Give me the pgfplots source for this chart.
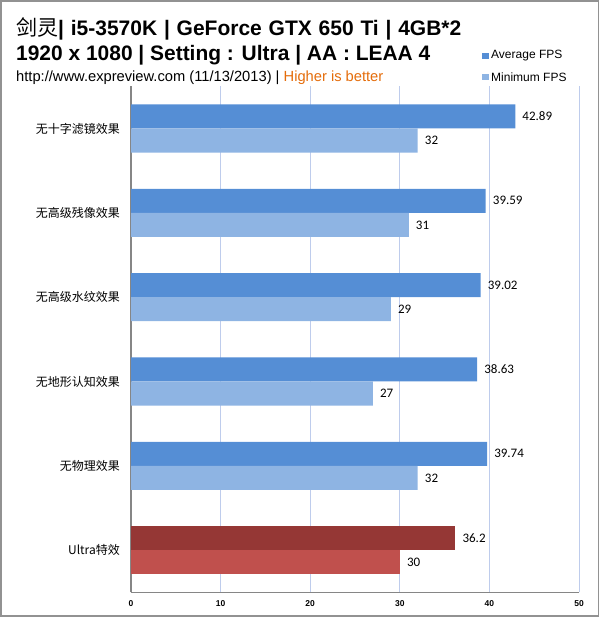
\documentclass[border=0pt]{standalone}
\usepackage{fontspec}
\setmainfont{Liberation Sans}
\newfontfamily\cjk{Noto Sans CJK SC}
\newfontfamily\calib{Carlito}
\usepackage{pgfplots}
\pgfplotsset{compat=1.18}
\definecolor{avgc}{RGB}{85,142,213}
\definecolor{minc}{RGB}{142,180,227}
\definecolor{uavgc}{RGB}{149,55,53}
\definecolor{uminc}{RGB}{192,80,77}
\definecolor{gridc}{RGB}{190,204,236}
\definecolor{axc}{RGB}{134,134,134}
\definecolor{orangec}{RGB}{228,108,10}
\begin{document}
\begin{tikzpicture}
\useasboundingbox (0bp,0bp) rectangle (600bp,-618bp);
\draw[color=axc!90, line width=1.5bp] (1bp,-1bp) rectangle (598.5bp,-616.2bp);
\node[anchor=base west, inner sep=0pt, font=\fontsize{21bp}{25bp}\selectfont\bfseries] at (16bp,-35bp) {\spaceskip=6.8bp plus 1bp {\cjk\mdseries 剑灵}| i5-3570K | GeForce GTX 650 Ti | 4GB*2};
\node[anchor=base west, inner sep=0pt, font=\fontsize{20.95bp}{25bp}\selectfont\bfseries] at (16bp,-60bp) {1920 x 1080 | Setting : Ultra | AA : LEAA 4};
\node[anchor=base west, inner sep=0pt, font=\fontsize{14.7bp}{18bp}\selectfont] at (16bp,-81bp) {http://www.expreview.com (11/13/2013) | \textcolor{orangec}{Higher is better}};
\fill[avgc] (482bp,-52.5bp) rectangle (489bp,-59bp);
\node[anchor=west, inner sep=0pt, font=\fontsize{12bp}{14bp}\selectfont] at (491bp,-56bp) {Average FPS};
\fill[minc] (482bp,-73.5bp) rectangle (489bp,-80bp);
\node[anchor=west, inner sep=0pt, font=\fontsize{12bp}{14bp}\selectfont] at (491bp,-77bp) {Minimum FPS};
\begin{axis}[
  at={(131bp,-592.3bp)}, anchor=south west,
  scale only axis, width=448bp, height=506bp,
  xbar, bar width=0.285,
  xmin=0, xmax=50, ymin=-0.5, ymax=5.5,
  xtick={0,10,20,30,40,50},
  ytick={0,1,2,3,4,5},
  yticklabels={Ultra特效,无物理效果,无地形认知效果,无高级水纹效果,无高级残像效果,无十字滤镜效果},
  axis lines*=left,
  axis line style={color=axc, line width=1.2bp},
  major tick length=0pt,
  xmajorgrids, grid style={color=gridc, line width=0.9bp},
  /pgf/number format/assume math mode=true,
  yticklabel style={font=\cjk\fontsize{12bp}{14bp}\selectfont, anchor=east, inner sep=0pt, xshift=-11bp},
  xticklabel style={font=\fontsize{8.5bp}{10bp}\selectfont\bfseries, anchor=north, inner sep=0pt, yshift=-8bp},
  nodes near coords, point meta=explicit symbolic,
  nodes near coords style={font=\calib\fontsize{13bp}{15bp}\selectfont, anchor=west, inner sep=0pt, xshift=7bp},
  clip=false,
]
\addplot[fill=avgc, draw=none, bar shift=0.1425] coordinates {
  (42.89,5) [42.89] (39.59,4) [39.59] (39.02,3) [39.02] (38.63,2) [38.63] (39.74,1) [39.74]};
\addplot[fill=minc, draw=none, bar shift=-0.1425] coordinates {
  (32,5) [32] (31,4) [31] (29,3) [29] (27,2) [27] (32,1) [32]};
\addplot[fill=uavgc, draw=none, bar shift=0.1425] coordinates {(36.2,0) [36.2]};
\addplot[fill=uminc, draw=none, bar shift=-0.1425] coordinates {(30,0) [30]};
\end{axis}
\end{tikzpicture}
\end{document}
